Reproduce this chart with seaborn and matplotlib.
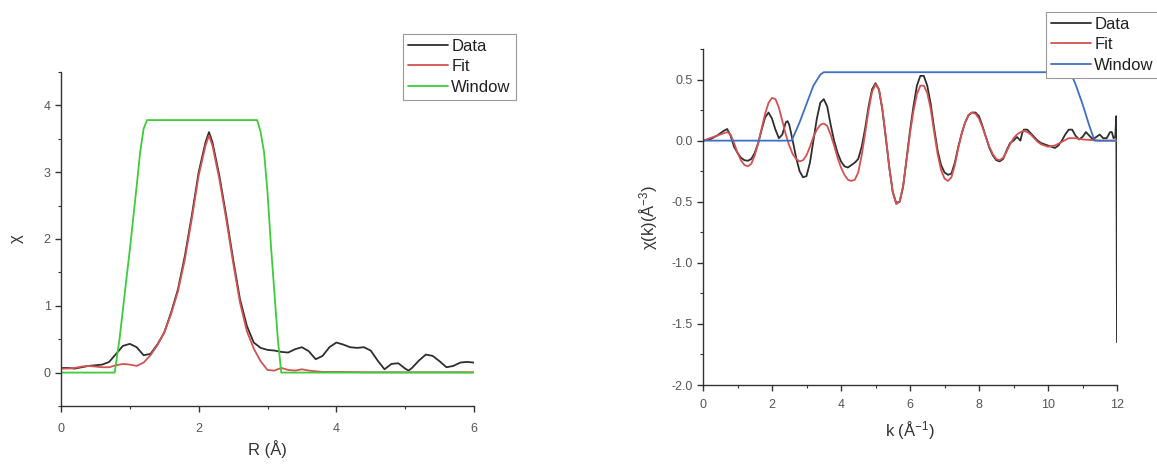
import numpy as np
import pandas as pd
import matplotlib
matplotlib.use("Agg")
import matplotlib.pyplot as plt
from matplotlib.ticker import MultipleLocator
import seaborn as sns

# ---------------- Left panel data (R space) ----------------
r_data = [0.0, 0.1, 0.2, 0.3, 0.4, 0.5, 0.6, 0.7, 0.8, 0.9, 1.0, 1.1, 1.2, 1.3, 1.4,
          1.5, 1.6, 1.7, 1.8, 1.9, 2.0, 2.1, 2.15, 2.2, 2.3, 2.4, 2.5, 2.6, 2.7, 2.8,
          2.9, 3.0, 3.1, 3.2, 3.3, 3.4, 3.5, 3.6, 3.7, 3.8, 3.9, 4.0, 4.1, 4.2, 4.3,
          4.4, 4.5, 4.6, 4.7, 4.8, 4.9, 5.0, 5.05, 5.1, 5.2, 5.3, 5.4, 5.5, 5.6, 5.7,
          5.8, 5.9, 6.0]
chi_r_data = [0.07, 0.07, 0.06, 0.08, 0.10, 0.11, 0.12, 0.16, 0.28, 0.40, 0.43, 0.38, 0.26, 0.28, 0.42,
              0.60, 0.90, 1.25, 1.75, 2.35, 3.00, 3.45, 3.60, 3.45, 2.95, 2.35, 1.70, 1.10, 0.70, 0.45,
              0.37, 0.34, 0.33, 0.31, 0.30, 0.35, 0.38, 0.32, 0.20, 0.25, 0.38, 0.45, 0.42, 0.38, 0.37,
              0.38, 0.33, 0.18, 0.05, 0.13, 0.14, 0.06, 0.03, 0.07, 0.18, 0.27, 0.25, 0.17, 0.08, 0.10,
              0.15, 0.16, 0.15]

r_fit = [0.0, 0.1, 0.2, 0.3, 0.4, 0.5, 0.6, 0.7, 0.8, 0.9, 1.0, 1.1, 1.2, 1.3, 1.4,
         1.5, 1.6, 1.7, 1.8, 1.9, 2.0, 2.1, 2.15, 2.2, 2.3, 2.4, 2.5, 2.6, 2.7, 2.8,
         2.9, 3.0, 3.1, 3.2, 3.3, 3.4, 3.5, 3.6, 3.7, 3.8, 4.0, 4.5, 5.0, 5.5, 6.0]
chi_r_fit = [0.06, 0.06, 0.07, 0.09, 0.10, 0.09, 0.08, 0.08, 0.11, 0.13, 0.12, 0.10, 0.15, 0.26, 0.41,
             0.60, 0.88, 1.22, 1.70, 2.30, 2.95, 3.40, 3.55, 3.40, 2.90, 2.30, 1.65, 1.05, 0.62, 0.36,
             0.17, 0.04, 0.03, 0.07, 0.04, 0.03, 0.05, 0.03, 0.02, 0.01, 0.01, 0.005, 0.005, 0.005, 0.005]

r_win = [0.0, 0.78, 0.85, 0.95, 1.0, 1.1, 1.15, 1.2, 1.25, 2.85, 2.9, 2.95, 3.0, 3.05, 3.1, 3.15, 3.2, 6.0]
chi_r_win = [0.0, 0.0, 0.5, 1.4, 1.84, 2.8, 3.3, 3.65, 3.78, 3.78, 3.6, 3.3, 2.7, 1.9, 1.2, 0.5, 0.0, 0.0]

# ---------------- Right panel data (k space) ----------------
k_data = [0.0, 0.2, 0.4, 0.6, 0.7, 0.8, 0.9, 1.0, 1.1, 1.2, 1.3, 1.4, 1.5, 1.6, 1.7, 1.8, 1.9,
          2.0, 2.1, 2.2, 2.3, 2.4, 2.45, 2.5, 2.6, 2.7, 2.8, 2.9, 3.0, 3.1, 3.2, 3.3, 3.4,
          3.5, 3.6, 3.7, 3.8, 3.9, 4.0, 4.1, 4.2, 4.3, 4.4, 4.5, 4.6, 4.7, 4.8, 4.9, 5.0,
          5.1, 5.2, 5.3, 5.4, 5.5, 5.6, 5.7, 5.8, 5.9, 6.0, 6.1, 6.2, 6.3, 6.4, 6.5, 6.6,
          6.7, 6.8, 6.9, 7.0, 7.1, 7.2, 7.3, 7.4, 7.5, 7.6, 7.7, 7.8, 7.9, 8.0, 8.1, 8.2,
          8.3, 8.4, 8.5, 8.6, 8.7, 8.8, 8.9, 9.0, 9.1, 9.2, 9.25, 9.3, 9.4, 9.5, 9.6, 9.7,
          9.8, 9.9, 10.0, 10.1, 10.2, 10.3, 10.4, 10.5, 10.6, 10.7, 10.8, 10.9, 11.0, 11.1,
          11.2, 11.3, 11.4, 11.5, 11.6, 11.7, 11.8, 11.85, 11.9, 11.95, 11.98, 12.0]
chi_k_data = [0.0, 0.01, 0.04, 0.08, 0.095, 0.04, -0.05, -0.10, -0.14, -0.16, -0.165, -0.15, -0.10, -0.02, 0.09, 0.19, 0.23,
              0.18, 0.09, 0.02, 0.05, 0.15, 0.16, 0.13, 0.0, -0.14, -0.25, -0.30, -0.29, -0.18, 0.0, 0.18, 0.31,
              0.34, 0.28, 0.13, 0.0, -0.10, -0.17, -0.21, -0.22, -0.20, -0.18, -0.15, -0.05, 0.10, 0.28, 0.42, 0.47,
              0.42, 0.25, 0.02, -0.22, -0.42, -0.51, -0.50, -0.38, -0.15, 0.08, 0.28, 0.45, 0.53, 0.53, 0.45, 0.30,
              0.10, -0.08, -0.20, -0.26, -0.28, -0.27, -0.18, -0.05, 0.06, 0.15, 0.21, 0.23, 0.23, 0.20, 0.12, 0.03,
              -0.06, -0.12, -0.16, -0.17, -0.15, -0.08, -0.02, 0.0, 0.03, 0.0, 0.06, 0.09, 0.09, 0.06, 0.03, 0.0,
              -0.02, -0.03, -0.04, -0.05, -0.06, -0.04, 0.0, 0.05, 0.09, 0.09, 0.04, 0.01, 0.03, 0.07,
              0.04, 0.01, 0.03, 0.05, 0.02, 0.02, 0.07, 0.07, 0.02, 0.03, 0.20, -1.65]

k_fit = [0.0, 0.2, 0.4, 0.6, 0.7, 0.8, 0.9, 1.0, 1.1, 1.2, 1.3, 1.4, 1.5, 1.6, 1.7, 1.8, 1.9,
         2.0, 2.1, 2.2, 2.3, 2.4, 2.5, 2.6, 2.7, 2.8, 2.9, 3.0, 3.1, 3.2, 3.3, 3.4, 3.5,
         3.6, 3.7, 3.8, 3.9, 4.0, 4.1, 4.2, 4.3, 4.4, 4.5, 4.6, 4.7, 4.8, 4.9, 5.0, 5.1,
         5.2, 5.3, 5.4, 5.5, 5.6, 5.7, 5.8, 5.9, 6.0, 6.1, 6.2, 6.3, 6.4, 6.5, 6.6, 6.7,
         6.8, 6.9, 7.0, 7.1, 7.2, 7.3, 7.4, 7.5, 7.6, 7.7, 7.8, 7.9, 8.0, 8.1, 8.2, 8.3,
         8.4, 8.5, 8.6, 8.7, 8.8, 8.9, 9.0, 9.1, 9.2, 9.3, 9.4, 9.5, 9.6, 9.7, 9.8, 10.0,
         10.2, 10.4, 10.6, 10.8, 11.0, 11.5, 12.0]
chi_k_fit = [0.0, 0.02, 0.04, 0.06, 0.07, 0.05, -0.02, -0.10, -0.16, -0.20, -0.21, -0.19, -0.12, -0.02, 0.10, 0.22, 0.31,
             0.35, 0.34, 0.27, 0.16, 0.05, -0.04, -0.11, -0.15, -0.17, -0.16, -0.12, -0.05, 0.03, 0.09, 0.13, 0.14,
             0.12, 0.05, -0.04, -0.14, -0.22, -0.28, -0.32, -0.33, -0.32, -0.26, -0.12, 0.06, 0.25, 0.40, 0.46, 0.42,
             0.26, 0.03, -0.22, -0.42, -0.52, -0.50, -0.37, -0.16, 0.06, 0.24, 0.38, 0.45, 0.45, 0.39, 0.26, 0.07,
             -0.11, -0.24, -0.31, -0.33, -0.30, -0.20, -0.06, 0.06, 0.15, 0.21, 0.23, 0.22, 0.18, 0.11, 0.03, -0.05,
             -0.11, -0.15, -0.16, -0.14, -0.09, -0.03, 0.02, 0.05, 0.07, 0.08, 0.07, 0.05, 0.02, -0.01, -0.03, -0.05,
             -0.04, -0.01, 0.02, 0.02, 0.01, 0.0, 0.0]

k_win = [0.0, 2.57, 2.8, 3.0, 3.2, 3.4, 3.5, 10.65, 10.8, 11.0, 11.2, 11.35, 12.0]
chi_k_win = [0.0, 0.0, 0.15, 0.30, 0.45, 0.54, 0.56, 0.56, 0.46, 0.30, 0.12, 0.0, 0.0]

legend_labels = ["Data", "Fit", "Window"]
r_ticks = [0, 2, 4, 6]
r_yticks = [0, 1, 2, 3, 4]
k_ticks = [0, 2, 4, 6, 8, 10, 12]
k_yticks = [-2.0, -1.5, -1.0, -0.5, 0.0, 0.5]

# ---------------- Styling ----------------
sns.set_style("ticks")
plt.rcParams["font.family"] = ["Liberation Sans", "DejaVu Sans"]
plt.rcParams["mathtext.fontset"] = "custom"
plt.rcParams["mathtext.rm"] = "Liberation Sans"
plt.rcParams["mathtext.it"] = "Liberation Sans"

TXT = "#333333"
C_DATA = "#2e2e2e"
C_FIT = "#d45252"
C_WIN_L = "#3ccc3c"
C_WIN_R = "#3f6fc4"
LW = 1.3

fig = plt.figure(figsize=(11.57, 4.66), dpi=100)
axL = fig.add_axes([61 / 1157, 1 - 406 / 466, 413 / 1157, 334 / 466])
axR = fig.add_axes([703 / 1157, 1 - 385 / 466, 414 / 1157, 336 / 466])


def draw(ax, x, y, color, label):
    df = pd.DataFrame({"x": x, "y": y})
    sns.lineplot(data=df, x="x", y="y", ax=ax, color=color, lw=LW,
                 sort=False, estimator=None, label=label)


# Left panel
draw(axL, r_data, chi_r_data, C_DATA, legend_labels[0])
draw(axL, r_fit, chi_r_fit, C_FIT, legend_labels[1])
draw(axL, r_win, chi_r_win, C_WIN_L, legend_labels[2])
axL.set_xlim(0, 6)
axL.set_ylim(-0.5, 4.5)
axL.set_xticks(r_ticks)
axL.set_yticks(r_yticks)
axL.xaxis.set_minor_locator(MultipleLocator(1))
axL.yaxis.set_minor_locator(MultipleLocator(0.5))
axL.set_xlabel("R (Å)", fontsize=12, color=TXT, labelpad=4)
axL.set_ylabel("χ", fontsize=12, color=TXT, labelpad=14)

# Right panel
draw(axR, k_data, chi_k_data, C_DATA, legend_labels[0])
draw(axR, k_fit, chi_k_fit, C_FIT, legend_labels[1])
draw(axR, k_win, chi_k_win, C_WIN_R, legend_labels[2])
axR.set_xlim(0, 12)
axR.set_ylim(-2.0, 0.75)
axR.set_xticks(k_ticks)
axR.set_yticks(k_yticks)
axR.xaxis.set_minor_locator(MultipleLocator(1))
axR.yaxis.set_minor_locator(MultipleLocator(0.25))
axR.set_xlabel("k (Å$^{-1}$)", fontsize=12, color=TXT, labelpad=6)
axR.set_ylabel("χ(k)(Å$^{-3}$)", fontsize=12, color=TXT, labelpad=8)

for ax in (axL, axR):
    sns.despine(ax=ax)
    for s in ("left", "bottom"):
        ax.spines[s].set_color("#333333")
        ax.spines[s].set_linewidth(1.0)
    ax.tick_params(which="major", direction="out", length=4, width=1.0,
                   colors="#333333", labelsize=9, labelcolor="#555555")
    ax.tick_params(which="minor", direction="out", length=2, width=0.8, colors="#333333")

axL.tick_params(axis="x", which="major", pad=8)
axR.tick_params(axis="x", which="major", pad=6)
axR.yaxis.set_major_formatter(matplotlib.ticker.FormatStrFormatter("%.1f"))

legend_kw = dict(loc="upper left", frameon=True, fancybox=False, fontsize=12,
                 handlelength=2.4, handletextpad=0.2, labelspacing=0.32,
                 borderpad=0.3, borderaxespad=0.0, bbox_transform=fig.transFigure)
legL = axL.legend(bbox_to_anchor=(403 / 1157, 1 - 34 / 466), **legend_kw)
legR = axR.legend(bbox_to_anchor=(1046 / 1157, 1 - 12 / 466), **legend_kw)
for leg in (legL, legR):
    leg.get_frame().set_edgecolor("#999999")
    leg.get_frame().set_linewidth(0.8)
    leg.get_frame().set_alpha(1.0)
    for t in leg.get_texts():
        t.set_color("#222222")

fig.savefig("out.png", dpi=100)
